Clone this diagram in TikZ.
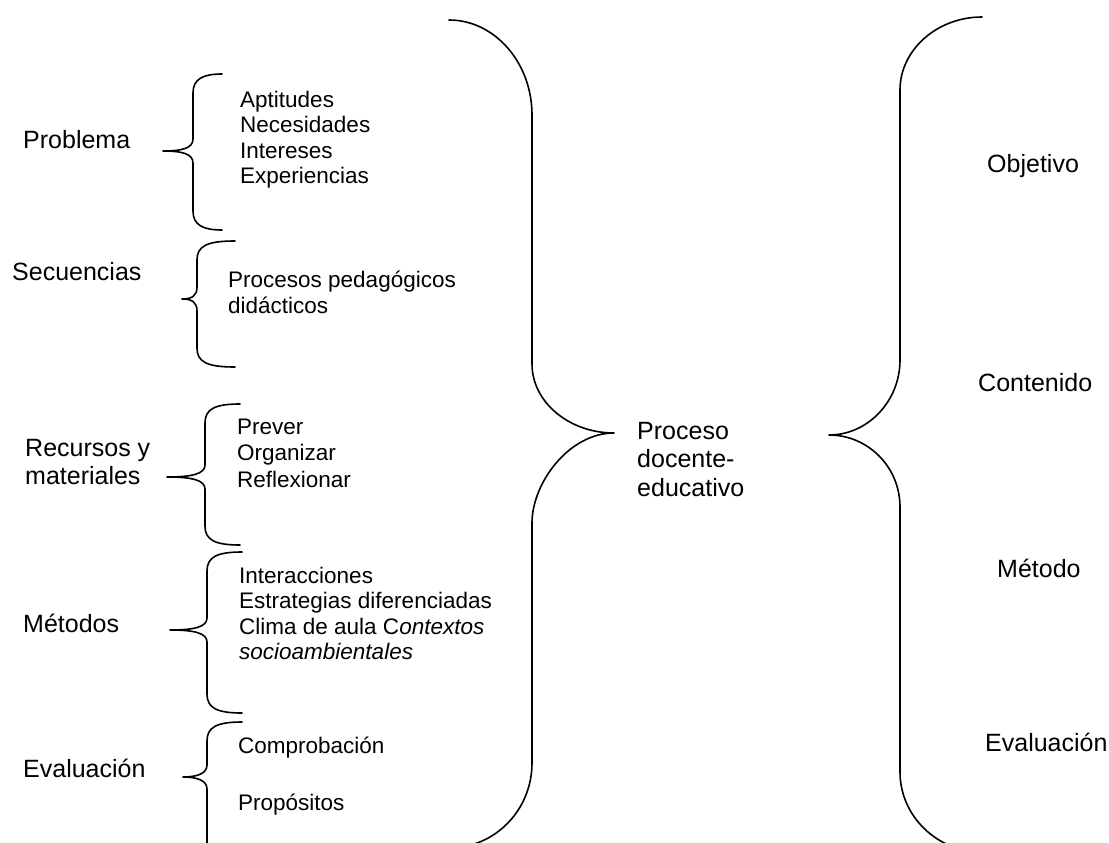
\documentclass[tikz,border=0pt]{standalone}
\usepackage{fontspec}
\setmainfont{Liberation Sans}
% small left brace: #1 stem x, #2 top y, #3 bottom y, #4 tip x, #5 tip y, #6 end x
\newcommand\leftcurly[6]{%
  \draw[brace] (#6,#2) .. controls ({#1+10},#2) and (#1,{#2+5}) .. (#1,{#2+19})
    -- (#1,{#5-12}) .. controls (#1,{#5-3}) and ({#1-0.35*(#1-#4)},#5) .. (#4,#5)
    .. controls ({#1-0.35*(#1-#4)},#5) and (#1,{#5+3}) .. (#1,{#5+12})
    -- (#1,{#3-19}) .. controls (#1,{#3-5}) and ({#1+10},#3) .. (#6,#3);}
\begin{document}
\begin{tikzpicture}[x=1pt,y=-1pt,
  brace/.style={line width=1.6pt, line cap=round, line join=round},
  big/.style={font=\fontsize{25}{28.5}\selectfont, anchor=base west, inner sep=0pt},
  small/.style={font=\fontsize{22.5}{25.5}\selectfont, anchor=base west, inner sep=0pt}]
\useasboundingbox (0,0) rectangle (1109,843);
\clip (0,0) rectangle (1109,843);

% left column labels
\node[big] (problema)    at (23,148) {Problema};
\node[big] (secuencias)  at (12,280) {Secuencias};
\node[big] (recursos)    at (25,456) {Recursos y};
\node[big] (materiales)  at (25,484) {materiales};
\node[big] (metodos)     at (23,632) {Métodos};
\node[big] (evalL)       at (23,777) {Evaluación};

% small braces
\leftcurly{193}{74}{230}{163}{151}{222}
\leftcurly{197}{241}{367}{182}{299}{235}
\leftcurly{205}{404}{545}{167}{477}{240}
\leftcurly{207}{552}{713}{170}{630}{242}
\draw[brace] (242,722) .. controls (217,722) and (207,727) .. (207,741)
  -- (207,765) .. controls (207,774) and (196,777) .. (183,777)
  .. controls (196,777) and (207,780) .. (207,789) -- (207,845);

% detail items
\node[small] (apt)  at (240,107) {Aptitudes};
\node[small] (nec)  at (240,132.5) {Necesidades};
\node[small] (int)  at (240,158) {Intereses};
\node[small] (exp)  at (240,183.5) {Experiencias};
\node[small] (proc) at (228,287) {Procesos pedagógicos};
\node[small] (did)  at (228,313) {didácticos};
\node[small] (prev) at (237,434) {Prever};
\node[small] (org)  at (237,460.5) {Organizar};
\node[small] (refl) at (237,487) {Reflexionar};
\node[small] (inter) at (239,583) {Interacciones};
\node[small] (estr)  at (239,608.5) {Estrategias diferenciadas};
\node[small] (clima) at (239,634) {Clima de aula C\textit{ontextos}};
\node[small] (socio) at (239,659.5) {\textit{socioambientales}};
\node[small] (comp)  at (238,753) {Comprobación};
\node[small] (prop)  at (238,810) {Propósitos};

% central closing brace
\draw[brace] (449,20) .. controls (495,20) and (532,63) .. (532,115)
  -- (532,364) .. controls (532,402) and (569,433) .. (614,433)
  .. controls (569,433) and (532,483) .. (532,523)
  -- (532,763) .. controls (532,810) and (495,848) .. (449,848);

\node[big] (proceso)  at (637,439) {Proceso};
\node[big] (docente)  at (637,467.5) {docente-};
\node[big] (educativo) at (637,496) {educativo};

% right opening brace
\draw[brace] (982,17) .. controls (937,17) and (900,50) .. (900,90)
  -- (900,360) .. controls (900,401) and (868,435) .. (829,435)
  .. controls (868,435) and (900,467) .. (900,507)
  -- (900,772) .. controls (900,816) and (937,852) .. (982,852);

\node[big] (objetivo)  at (987,172) {Objetivo};
\node[big] (contenido) at (978,391) {Contenido};
\node[big] (metodo)    at (997,577) {Método};
\node[big] (evalR)     at (985,751) {Evaluación};
\end{tikzpicture}
\end{document}
